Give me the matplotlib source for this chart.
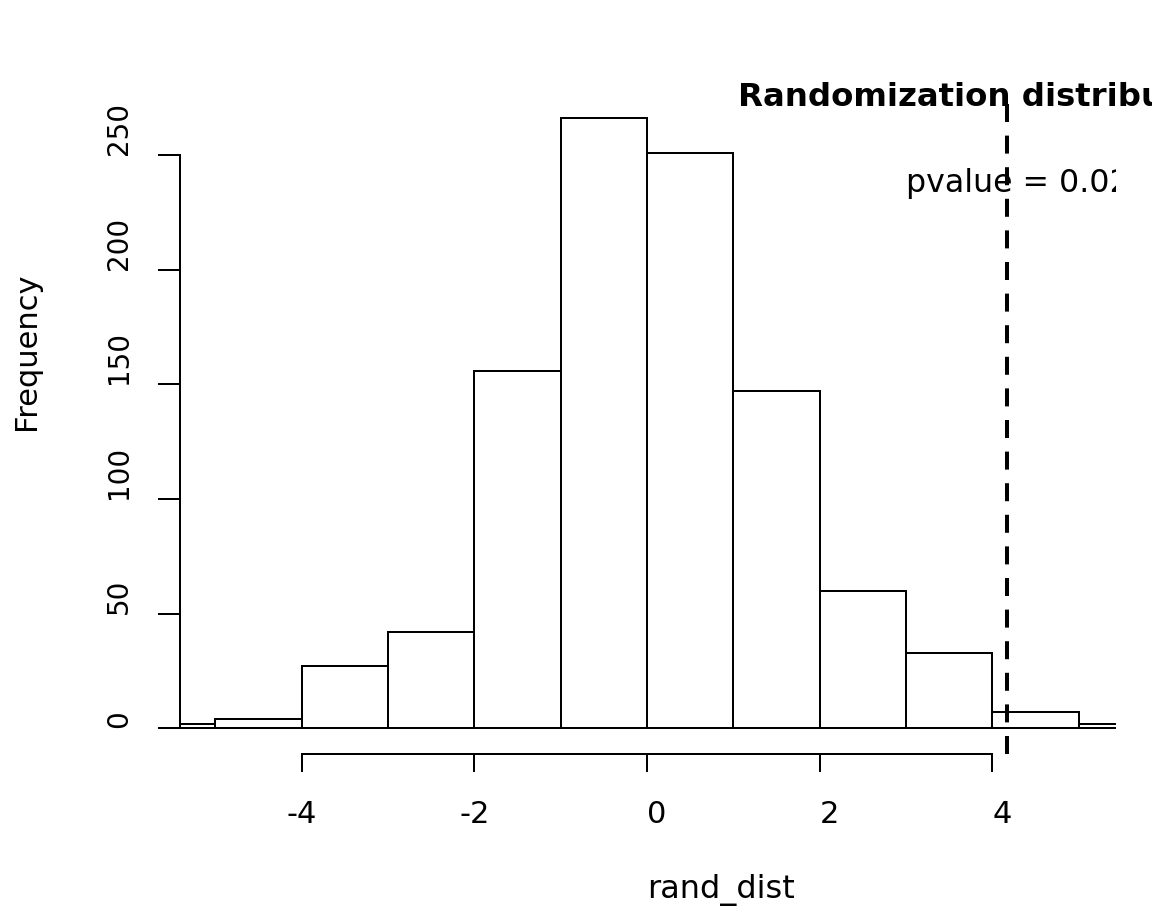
import numpy as np
import matplotlib.pyplot as plt
from matplotlib.transforms import Bbox, TransformedBbox

plt.rcParams['font.family'] = ['DejaVu Sans']

# Dados do histograma (classes de largura 1)
breaks = np.arange(-6, 7)
counts = [2, 4, 27, 42, 156, 266, 251, 147, 60, 33, 7, 2]
obs_stat = 4.17
pvalue = 0.02
xticks = [-4, -2, 0, 2, 4]
yticks = [0, 50, 100, 150, 200, 250]

W, H = 1158, 910
fig = plt.figure(figsize=(W / 100, H / 100), dpi=100)
ax = fig.add_axes([180 / W, 1 - 754 / H, (1115.7 - 180) / W, (754 - 93) / H])

ax.bar(breaks[:-1], counts, width=1, align='edge', color='white',
       edgecolor='black', linewidth=1.44)
ax.set_xlim(-5.41, 5.43)
ax.set_ylim(-11.2, 277)

# eixos estilo R
for s in ['top', 'right']:
    ax.spines[s].set_visible(False)
ax.spines['left'].set_bounds(0, 250)
ax.spines['bottom'].set_bounds(-4, 4)
ax.spines['left'].set_linewidth(1.44)
ax.spines['bottom'].set_linewidth(1.44)

ax.set_xticks(xticks)
ax.set_xticklabels([str(v) for v in xticks], va='baseline')
for lab, v in zip(ax.get_xticklabels(), xticks):
    lab.set_ha('center' if v < 0 else 'left')
ax.set_yticks(yticks)
ax.set_yticklabels([str(v) for v in yticks], rotation=90, rotation_mode='anchor',
                   ha='left', va='baseline')
ax.tick_params(axis='x', length=13, width=1.44, labelsize=22, pad=36.7)
ax.tick_params(axis='y', length=15.8, width=1.44, labelsize=20, pad=22.3)

# estatística observada (linha de baixo para cima, como abline)
ax.plot([obs_stat, obs_stat], [-11.2, 277], color='black', lw=2.88,
        linestyle=(0, (4.5, 3.4)))
ax.text(3, 234, f'pvalue = {pvalue}', fontsize=22.8, ha='left', va='baseline',
        clip_on=True)

# rótulos
ax.annotate('rand_dist', xy=(0, H - 898), xycoords=('data', 'figure pixels'),
            fontsize=23, ha='left', va='baseline', annotation_clip=False)
fig.text(35 / W, 1 - 273 / H, 'Frequency', fontsize=22, rotation=90,
         rotation_mode='anchor', ha='right', va='baseline')
t = fig.text(738 / W, 1 - 106 / H, 'Randomization distribution', fontsize=23.3,
             fontweight='bold', ha='left', va='baseline')
t.set_clip_box(TransformedBbox(Bbox([[0, 0], [1152 / W, 1]]), fig.transFigure))
t.set_clip_on(True)

fig.savefig('out.png', dpi=100)
